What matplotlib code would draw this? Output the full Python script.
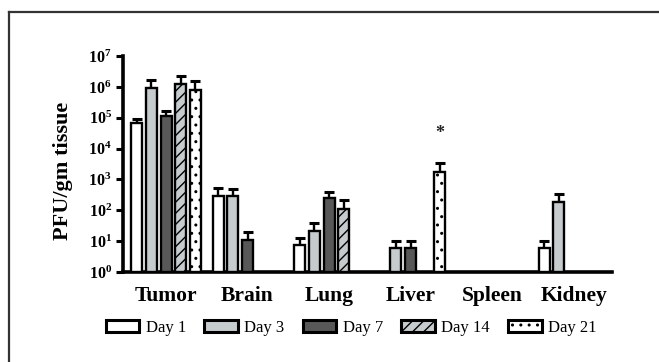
import numpy as np
import matplotlib
matplotlib.use("Agg")
import matplotlib.pyplot as plt
from matplotlib.lines import Line2D
from matplotlib.ticker import FixedLocator, NullLocator

plt.rcParams['font.family'] = ['Liberation Serif', 'DejaVu Serif']
plt.rcParams['mathtext.fontset'] = 'custom'
plt.rcParams['mathtext.rm'] = 'Liberation Serif'
plt.rcParams['mathtext.bf'] = 'Liberation Serif:bold'
plt.rcParams['hatch.linewidth'] = 1.0

# ---- data ----
tissues = ["Tumor", "Brain", "Lung", "Liver", "Spleen", "Kidney"]
days = ["Day 1", "Day 3", "Day 7", "Day 14", "Day 21"]
nan = np.nan
day1 = [65000, 280, 6.5, nan, nan, 5]
day3 = [950000, 290, 21, 5.2, nan, 180]
day7 = [110000, 10, 245, 5.2, nan, nan]
day14 = [1250000, nan, 110, nan, nan, nan]
day21 = [780000, nan, nan, 1800, nan, nan]
err1 = [88000, 520, 13, nan, nan, 10]
err3 = [1700000, 480, 38, 10, nan, 330]
err7 = [160000, 20, 400, 10, nan, nan]
err14 = [2200000, nan, 215, nan, nan, nan]
err21 = [1500000, nan, nan, 3500, nan, nan]
star_label = "*"

values = [day1, day3, day7, day14, day21]
uppers = [err1, err3, err7, err14, err21]
fills = ["white", "#c6cbcd", "#585858", "#c6cbcd", "white"]
hatches = [None, None, None, "///", ".."]

fig = plt.figure(figsize=(6.59, 3.62), dpi=100)
ax = fig.add_axes([0.1866, 0.2486, 0.742, 0.5967])

x = np.arange(len(tissues))
step = 0.18
width = 0.135
handles = []
for i in range(5):
    v = np.array(values[i], dtype=float)
    u = np.array(uppers[i], dtype=float)
    pos = x + (i - 2) * step
    m = ~np.isnan(v)
    b = ax.bar(pos[m], v[m], width=width, bottom=1, color=fills[i],
               edgecolor="black", linewidth=1.7, hatch=hatches[i], zorder=3)
    ax.errorbar(pos[m], v[m], yerr=[np.zeros(m.sum()), u[m] - v[m]],
                fmt="none", ecolor="black", elinewidth=1.7, capsize=3.5,
                capthick=2.2, zorder=2)
    handles.append(b)

ax.text(3 + 2 * step, 10 ** 4.5, star_label, ha="center", va="center",
        fontsize=13, fontweight="bold", color="#222222")

ax.set_yscale("log")
ax.set_ylim(1, 1e7)
ax.set_xlim(-0.528, 5.47)
ax.yaxis.set_major_locator(FixedLocator([10.0 ** k for k in range(8)]))
ax.yaxis.set_minor_locator(NullLocator())
ax.set_yticklabels([r"$\mathbf{10^{%d}}$" % k for k in range(8)], fontsize=11.5)
ax.tick_params(axis="y", direction="out", length=5, width=2.2, pad=3)
ax.set_xticks(x)
ax.set_xticklabels(tissues, fontsize=15.5, fontweight="bold")
ax.tick_params(axis="x", length=0, pad=10)
for s in ["top", "right"]:
    ax.spines[s].set_visible(False)
ax.spines["left"].set_linewidth(2.6)
ax.spines["bottom"].set_linewidth(2.6)
ax.set_ylabel("PFU/gm tissue", fontsize=16, fontweight="bold")
ax.yaxis.set_label_coords(-0.102, 0.47)
ax.set_facecolor("none")

leg = fig.legend(handles, days, loc="center", bbox_to_anchor=(0.533, 0.094),
                 ncol=5, frameon=False, fontsize=12, handlelength=2.0,
                 handleheight=0.75, handletextpad=0.4, columnspacing=1.1)
for p in leg.get_patches():
    p.set_linewidth(2.2)

# outer frame (left and top edges)
fig.add_artist(Line2D([0.0144, 0.0144], [0.0, 0.968], transform=fig.transFigure,
                      color="#333333", linewidth=1.6))
fig.add_artist(Line2D([0.0144, 1.0], [0.968, 0.968], transform=fig.transFigure,
                      color="#333333", linewidth=1.6))

fig.savefig("out.png", dpi=100)
